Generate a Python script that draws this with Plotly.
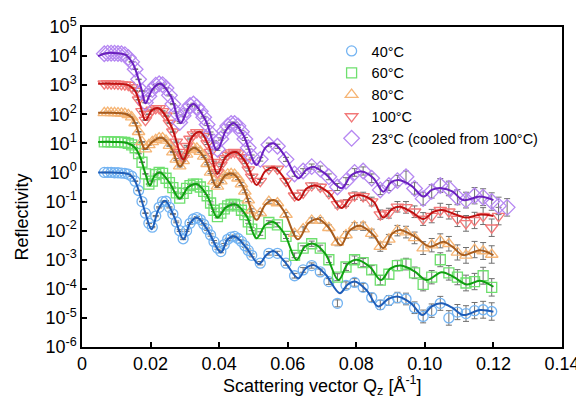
import plotly.graph_objects as go

# ---------------- data ----------------
x_tick_vals = [0, 0.02, 0.04, 0.06, 0.08, 0.10, 0.12, 0.14]
x_tick_text = ["0", "0.02", "0.04", "0.06", "0.08", "0.10", "0.12", "0.14"]
y_tick_exp = [5, 4, 3, 2, 1, 0, -1, -2, -3, -4, -5, -6]

series_names = ["40°C", "60°C", "80°C", "100°C", "23°C (cooled from 100°C)"]

# measured Qz grid (Å^-1)
q_data = [0.0065, 0.0075, 0.0085, 0.0095, 0.0105, 0.0115, 0.0125, 0.0135, 0.0145, 0.0155,
          0.0165, 0.0175, 0.0185, 0.0195, 0.0205, 0.0215, 0.0225, 0.0235, 0.0245, 0.0255,
          0.0265, 0.0275, 0.0285, 0.0295, 0.0305, 0.0315, 0.0325, 0.0335, 0.0345, 0.0355,
          0.0365, 0.0375, 0.0385, 0.0395, 0.0405, 0.0415, 0.0425, 0.0435, 0.0445, 0.0455,
          0.0465, 0.0475, 0.0485, 0.0495,
          0.052, 0.0545, 0.057, 0.0595, 0.062, 0.0645, 0.067, 0.0695, 0.072, 0.0745,
          0.077, 0.0795, 0.082, 0.0845, 0.087, 0.0895, 0.092, 0.0945, 0.097, 0.0995,
          0.102, 0.1045, 0.107, 0.1095, 0.112, 0.1145, 0.117, 0.1195]

# log10 of measured reflectivity (offset curves)
logR_40 = [0.0, 0.0, 0.0, -0.01, -0.01, -0.02, -0.03, -0.06, -0.13, -0.3,
           -0.62, -1.0, -1.4, -1.75, -1.88, -1.5, -1.2, -1.0, -0.99, -1.2,
           -1.43, -1.7, -2.0, -2.28, -2.0, -1.75, -1.6, -1.55, -1.62, -1.78,
           -1.95, -2.15, -2.38, -2.6, -2.72, -2.48, -2.3, -2.22, -2.2, -2.27,
           -2.37, -2.52, -2.68, -2.85,
           -3.12, -2.78, -2.78, -3.12, -3.55, -3.35, -3.2, -3.42, -3.75, -4.5,
           -3.88, -3.78, -3.95, -4.3, -4.55, -4.4, -4.3, -4.35, -4.65, -4.95,
           -4.75, -4.5, -5.0, -4.8, -4.85, -4.75, -4.72, -4.78]
logR_60 = [1.05, 1.06, 1.05, 1.05, 1.04, 1.04, 1.03, 1.0, 0.95, 0.85,
           0.65, 0.35, -0.05, -0.4, -0.3, -0.07, 0.0, -0.03, -0.2, -0.35,
           -0.52, -0.7, -0.88, -0.72, -0.55, -0.45, -0.4, -0.4, -0.5, -0.65,
           -0.8, -1.05, -1.3, -1.52, -1.4, -1.25, -1.15, -1.1, -1.1, -1.15,
           -1.3, -1.45, -1.7, -1.95,
           -2.1, -1.72, -1.8, -2.2, -2.85, -2.6, -2.45, -2.6, -3.0, -3.6,
           -3.25, -3.0, -3.1, -3.35, -3.7, -3.5, -3.2, -3.15, -3.45, -3.85,
           -3.6, -3.0, -3.45, -3.6, -3.8, -3.75, -3.55, -3.95]
logR_80 = [2.05, 2.06, 2.05, 2.05, 2.04, 2.03, 2.02, 1.98, 1.9, 1.7,
           1.4, 1.05, 0.8, 0.95, 1.05, 1.12, 1.18, 1.18, 1.1, 0.92,
           0.7, 0.45, 0.22, 0.4, 0.62, 0.78, 0.85, 0.83, 0.72, 0.55,
           0.3, 0.0, -0.3, -0.48, -0.3, -0.12, -0.06, -0.05, -0.07, -0.2,
           -0.4, -0.65, -0.95, -1.3,
           -1.4, -1.0, -1.05, -1.45, -2.1, -1.95, -1.65, -1.65, -1.9, -2.4,
           -2.15, -1.85, -1.85, -2.1, -2.55, -2.3, -2.0, -2.05, -2.25, -2.6,
           -2.5, -2.35, -2.45, -2.75, -2.85, -2.65, -2.7, -2.82]
logR_100 = [3.05, 3.06, 3.05, 3.05, 3.04, 3.03, 3.02, 3.0, 2.92, 2.8,
            2.5, 2.1, 1.8, 2.0, 2.15, 2.2, 2.2, 2.1, 1.95, 1.7,
            1.4, 1.05, 0.7, 0.5, 0.9, 1.15, 1.3, 1.38, 1.38, 1.25,
            1.0, 0.7, 0.35, 0.0, 0.25, 0.48, 0.6, 0.68, 0.7, 0.65,
            0.52, 0.35, 0.1, -0.15,
            -0.3, 0.12, 0.12, -0.3, -0.8, -0.7, -0.45, -0.5, -0.72, -1.1,
            -1.05, -0.8, -0.82, -1.0, -1.45, -1.4, -1.18, -1.2, -1.35, -1.6,
            -1.5, -1.3, -1.35, -1.6, -1.75, -1.65, -1.5, -1.9]
logR_23 = [4.08, 4.1, 4.1, 4.1, 4.09, 4.08, 4.05, 3.95, 3.8, 3.55,
           3.2, 2.8, 2.4, 2.62, 2.85, 3.0, 3.05, 3.02, 2.9, 2.65,
           2.35, 2.05, 1.72, 1.95, 2.15, 2.3, 2.35, 2.25, 2.1, 1.9,
           1.65, 1.35, 1.05, 0.8, 1.15, 1.42, 1.6, 1.68, 1.68, 1.6,
           1.4, 1.15, 0.85, 0.55,
           0.45, 0.95, 0.9, 0.45, -0.05, 0.05, 0.2, 0.12, -0.15, -0.5,
           -0.3, 0.0, 0.05, -0.2, -0.6, -0.45, -0.28, -0.15, -0.55, -0.9,
           -0.65, -0.45, -0.55, -0.85, -0.95, -0.8, -0.85, -1.0]
# extra high-Q points measured only for some runs
q_extra_100 = [0.1215]
logR_extra_100 = [-1.5]
q_extra_23 = [0.1215, 0.124]
logR_extra_23 = [-1.15, -1.2]

# error bar half-width in decades for each grid point
err_log = [0.01, 0.01, 0.01, 0.01, 0.01, 0.01, 0.01, 0.01, 0.01, 0.01,
           0.01, 0.01, 0.01, 0.01, 0.02, 0.02, 0.02, 0.02, 0.02, 0.02,
           0.02, 0.03, 0.03, 0.03, 0.03, 0.03, 0.03, 0.03, 0.03, 0.03,
           0.04, 0.04, 0.04, 0.04, 0.04, 0.04, 0.04, 0.05, 0.05, 0.05,
           0.05, 0.05, 0.05, 0.05,
           0.06, 0.06, 0.07, 0.07, 0.08, 0.08, 0.09, 0.1, 0.1, 0.12,
           0.12, 0.13, 0.14, 0.15, 0.16, 0.17, 0.18, 0.2, 0.2, 0.22,
           0.23, 0.24, 0.25, 0.26, 0.27, 0.28, 0.29, 0.3]
err_extra = [0.3, 0.3]

# fitted model curves: knots (Qz, log10 R)
fit_q_40 = [0.0047, 0.008, 0.012, 0.014, 0.0155, 0.017, 0.0185, 0.0203, 0.0222, 0.0242,
            0.0268, 0.0296, 0.0315, 0.0335, 0.0365, 0.0405, 0.0425, 0.0446, 0.048, 0.0516,
            0.0537, 0.0558, 0.059, 0.0631, 0.0652, 0.0675, 0.071, 0.0752, 0.0775, 0.0796,
            0.083, 0.0864, 0.0893, 0.0923, 0.096, 0.0993, 0.102, 0.1049, 0.108, 0.1112,
            0.1161, 0.12]
fit_l_40 = [0.0, 0.0, -0.02, -0.08, -0.3, -0.8, -1.4, -1.95, -1.3, -0.97,
            -1.5, -2.3, -1.75, -1.55, -1.95, -2.75, -2.3, -2.2, -2.6, -3.15,
            -2.85, -2.7, -3.05, -3.64, -3.3, -3.18, -3.5, -4.15, -3.85, -3.75,
            -4.05, -4.61, -4.35, -4.27, -4.5, -4.9, -4.6, -4.5, -4.65, -4.9,
            -4.73, -4.79]
fit_q_60 = [0.0047, 0.009, 0.013, 0.0155, 0.0172, 0.0185, 0.0198, 0.0212, 0.0228, 0.0255,
            0.0285, 0.031, 0.0335, 0.0365, 0.0395, 0.042, 0.0449, 0.048, 0.0509, 0.0535,
            0.0558, 0.059, 0.0626, 0.065, 0.0675, 0.071, 0.0748, 0.0775, 0.0801, 0.084,
            0.0872, 0.09, 0.093, 0.097, 0.1005, 0.1049, 0.1085, 0.1122, 0.1161, 0.12]
fit_l_60 = [1.05, 1.05, 1.02, 0.85, 0.45, -0.05, -0.45, -0.1, 0.0, -0.35,
            -0.9, -0.5, -0.4, -0.8, -1.55, -1.2, -1.1, -1.5, -2.26, -1.8,
            -1.7, -2.1, -3.0, -2.55, -2.45, -2.8, -3.7, -3.15, -3.0, -3.25,
            -3.7, -3.3, -3.2, -3.4, -3.7, -3.43, -3.6, -3.85, -3.72, -3.93]
fit_q_80 = [0.0047, 0.009, 0.0125, 0.0145, 0.016, 0.0172, 0.0184, 0.0205, 0.0232, 0.026,
            0.0286, 0.031, 0.0328, 0.036, 0.0393, 0.0418, 0.0441, 0.047, 0.0509, 0.0535,
            0.056, 0.059, 0.063, 0.066, 0.0689, 0.072, 0.0755, 0.078, 0.0811, 0.085,
            0.0879, 0.0905, 0.0927, 0.097, 0.1015, 0.1054, 0.108, 0.1112, 0.1161, 0.12]
fit_l_80 = [2.05, 2.05, 2.02, 1.9, 1.55, 1.1, 0.8, 1.05, 1.2, 0.85,
            0.2, 0.7, 0.85, 0.45, -0.5, -0.1, -0.05, -0.5, -1.63, -1.1,
            -0.95, -1.35, -2.3, -1.75, -1.6, -1.9, -2.5, -2.0, -1.83, -2.15,
            -2.6, -2.1, -1.98, -2.2, -2.55, -2.38, -2.55, -2.84, -2.67, -2.84]
fit_q_100 = [0.0047, 0.009, 0.0135, 0.0155, 0.017, 0.0185, 0.0205, 0.0225, 0.026, 0.0296,
             0.032, 0.0344, 0.037, 0.0395, 0.042, 0.045, 0.048, 0.0509, 0.0535, 0.056,
             0.059, 0.0631, 0.0655, 0.068, 0.072, 0.0757, 0.0785, 0.0813, 0.085, 0.0879,
             0.0905, 0.0927, 0.096, 0.0996, 0.1025, 0.1049, 0.108, 0.112, 0.116, 0.12]
fit_l_100 = [3.05, 3.05, 3.0, 2.8, 2.3, 1.8, 2.15, 2.2, 1.6, 0.45,
             1.2, 1.4, 0.9, -0.05, 0.55, 0.7, 0.3, -0.43, 0.05, 0.17,
             -0.2, -0.95, -0.55, -0.45, -0.7, -1.22, -0.85, -0.78, -1.0, -1.55,
             -1.25, -1.18, -1.35, -1.6, -1.35, -1.29, -1.4, -1.55, -1.45, -1.5]
fit_q_23 = [0.0047, 0.007, 0.01, 0.013, 0.015, 0.0165, 0.0175, 0.0185, 0.0205, 0.0228,
            0.026, 0.0287, 0.031, 0.0325, 0.036, 0.0394, 0.042, 0.0442, 0.047, 0.0509,
            0.0535, 0.0558, 0.059, 0.0631, 0.0655, 0.0675, 0.071, 0.0757, 0.0785, 0.0816,
            0.085, 0.0879, 0.09, 0.0923, 0.096, 0.0996, 0.102, 0.1049, 0.108, 0.1112,
            0.1161, 0.12]
fit_l_23 = [4.0, 4.1, 4.1, 4.02, 3.7, 3.2, 2.8, 2.38, 2.85, 3.06,
            2.6, 1.69, 2.2, 2.35, 1.8, 0.77, 1.45, 1.7, 1.3, 0.26,
            0.85, 1.0, 0.6, -0.2, 0.1, 0.2, -0.05, -0.54, -0.1, 0.03,
            -0.2, -0.66, -0.35, -0.26, -0.45, -0.83, -0.6, -0.54, -0.65, -0.95,
            -0.83, -0.95]

# ---------------- styles ----------------
marker_colors = ["#74B4F2", "#6EE06E", "#F6B575", "#F27878", "#B688F2"]
line_colors = ["#1E5DB8", "#10A010", "#A85C1C", "#C01010", "#6A1FBF"]
symbols = ["circle-open", "square-open", "triangle-up-open", "triangle-down-open", "diamond-open"]
sizes = [10, 10, 11, 11, 12]
FONT = "Liberation Sans, Arial, sans-serif"

data_q = [q_data, q_data, q_data, q_data + q_extra_100, q_data + q_extra_23]
data_l = [logR_40, logR_60, logR_80, logR_100 + logR_extra_100, logR_23 + logR_extra_23]
data_e = [err_log, err_log, err_log, err_log + err_extra[:1], err_log + err_extra]
fits = [(fit_q_40, fit_l_40), (fit_q_60, fit_l_60), (fit_q_80, fit_l_80),
        (fit_q_100, fit_l_100), (fit_q_23, fit_l_23)]

fig = go.Figure()

for i in range(5):
    R = [10 ** v for v in data_l[i]]
    ep = [r * (10 ** e - 1) for r, e in zip(R, data_e[i])]
    em = [r * (1 - 10 ** (-e)) for r, e in zip(R, data_e[i])]
    fig.add_trace(go.Scatter(
        x=data_q[i], y=R, mode="markers", name=series_names[i],
        marker=dict(symbol=symbols[i], size=sizes[i], color=marker_colors[i],
                    line=dict(width=1.3, color=marker_colors[i])),
        error_y=dict(type="data", symmetric=False, array=ep, arrayminus=em,
                     color="#707070", thickness=1, width=3),
    ))

for i in range(5):
    fq, fl = fits[i]
    fig.add_trace(go.Scatter(
        x=fq, y=[10 ** v for v in fl], mode="lines", showlegend=False,
        line=dict(color=line_colors[i], width=2, shape="spline", smoothing=1.0),
        hoverinfo="skip",
    ))

# page body has an 8px margin, so the figure is 8px smaller than the window
fig.update_layout(
    width=576, height=398,
    margin=dict(l=74, r=22, t=19, b=59, autoexpand=False),
    plot_bgcolor="white", paper_bgcolor="white",
    font=dict(family=FONT, color="black", size=18),
    showlegend=True,
    legend=dict(x=0.52, y=0.975, xanchor="left", yanchor="top",
                font=dict(family=FONT, size=14.5, color="black"),
                bgcolor="rgba(0,0,0,0)", borderwidth=0, itemwidth=30,
                tracegroupgap=0),
)

fig.update_xaxes(
    range=[0, 0.14], tickvals=x_tick_vals, ticktext=x_tick_text,
    showline=True, linewidth=1.5, linecolor="black", mirror=True,
    ticks="inside", ticklen=5, tickwidth=1.5, tickcolor="black",
    showgrid=False, zeroline=False, automargin=False,
    tickfont=dict(size=18, family=FONT),
)
fig.update_yaxes(
    type="log", range=[-6, 5],
    tickvals=[10 ** e for e in y_tick_exp],
    ticktext=["10<sup>%d</sup>" % e for e in y_tick_exp],
    showline=True, linewidth=1.5, linecolor="black", mirror=True,
    ticks="inside", ticklen=5, tickwidth=1.5, tickcolor="black",
    showgrid=False, zeroline=False, automargin=False,
    tickfont=dict(size=18, family=FONT),
)

fig.add_annotation(text="Scattering vector Q<sub>z</sub> [Å<sup>-1</sup>]",
                   xref="paper", yref="paper", x=0.5, y=-0.12,
                   xanchor="center", yanchor="middle", showarrow=False,
                   font=dict(size=18, family=FONT))
fig.add_annotation(text="Reflectivity", xref="paper", yref="paper",
                   x=-0.125, y=0.405, xanchor="center", yanchor="middle",
                   textangle=-90, showarrow=False, font=dict(size=18, family=FONT))

fig.write_html("out.html")
